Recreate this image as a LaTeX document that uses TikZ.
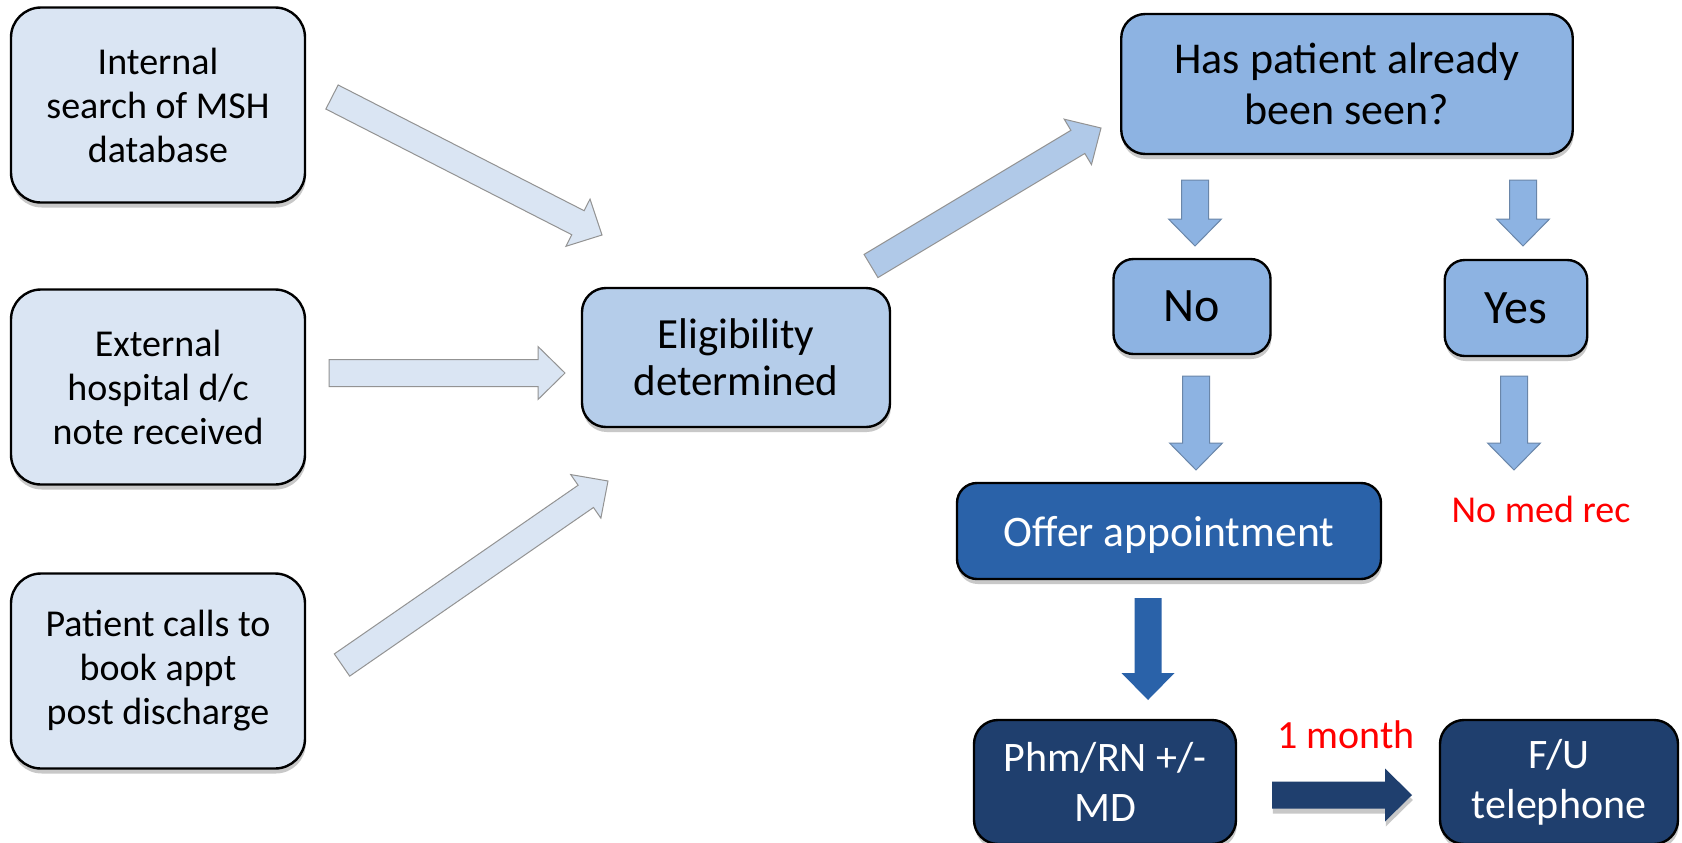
\documentclass[tikz,border=0pt]{standalone}
\usepackage{fontspec}
\setmainfont{Carlito}
\usetikzlibrary{calc,shadows}
\definecolor{lightbox}{HTML}{DAE5F3}
\definecolor{eligbox}{HTML}{B5CDEA}
\definecolor{eligarrow}{HTML}{B0C9E8}
\definecolor{midbox}{HTML}{8DB3E2}
\definecolor{offerbox}{HTML}{2A62A9}
\definecolor{darkbox}{HTML}{1F3F6E}
\definecolor{redtext}{HTML}{FF0000}
\newcommand{\blockarrow}[3]{%
  \coordinate (bahd) at ($(#3)!13.5pt!(#2)$);
  \path[#1] ($(#2)!6.75pt!90:(#3)$) -- ($(bahd)!6.75pt!90:(#3)$) -- ($(bahd)!13.25pt!90:(#3)$) -- (#3)
    -- ($(bahd)!13.25pt!-90:(#3)$) -- ($(bahd)!6.75pt!-90:(#3)$) -- ($(#2)!6.75pt!-90:(#3)$) -- cycle;
}
\tikzset{
  softshadow/.style={drop shadow={shadow xshift=0.4pt, shadow yshift=-2.5pt, opacity=0.3, fill=black!70}},
  box/.style={draw=black, line width=1.2pt, rounded corners=12pt, align=center, inner sep=0pt, softshadow},
  lbox/.style={box, fill=lightbox, rounded corners=15pt, minimum width=147pt, minimum height=97.5pt, font=\fontsize{19}{22}\selectfont},
  ebox/.style={box, fill=eligbox, font=\fontsize{21.5}{23.5}\selectfont},
  mbox/.style={box, fill=midbox},
  obox/.style={box, fill=offerbox, text=white, rounded corners=10pt},
  dbox/.style={box, fill=darkbox, text=white, minimum height=62pt, font=\fontsize{21}{25}\selectfont},
  redlabel/.style={text=redtext, inner sep=0pt, anchor=base},
  larrow/.style={fill=lightbox, draw=gray!85, line width=0.5pt},
  earrow/.style={fill=eligarrow, draw=gray!85, line width=0.5pt},
  marrow/.style={fill=midbox, draw=midbox!75!black, line width=0.5pt},
  oarrow/.style={fill=offerbox},
  darrow/.style={fill=darkbox, softshadow},
}
\begin{document}
\begin{tikzpicture}[x=0.5pt,y=-0.5pt]
\useasboundingbox (0,0) rectangle (1682,842);
\fill[white] (0,0) rectangle (1682,842);
\clip (0,0) rectangle (1682,842);

% left column
\node[lbox] (int) at (158,105) {Internal\\search of MSH\\database};
\node[lbox] (ext) at (158,387) {External\\hospital d/c\\note received};
\node[lbox] (call) at (158,671) {Patient calls to\\book appt\\post discharge};

% eligibility
\node[ebox, minimum width=154pt, minimum height=69.5pt] (elig) at (736,357.5) {Eligibility\\determined};

% decision
\node[mbox, minimum width=225.75pt, minimum height=70pt, font=\fontsize{22}{25.5}\selectfont] (seen) at (1347,84) {Has patient already\\been seen?};
\node[mbox, minimum width=78.5pt, minimum height=47.5pt, rounded corners=10pt, font=\fontsize{24}{28}\selectfont] (no) at (1192,306.5) {No};
\node[mbox, minimum width=71.25pt, minimum height=48pt, rounded corners=10pt, font=\fontsize{24}{28}\selectfont] (yes) at (1516,308) {Yes};

\node[obox, minimum width=212pt, minimum height=48pt, text depth=0pt, font=\fontsize{21.8}{25}\selectfont] (offer) at (1169,531) {Offer appointment};
\node[redlabel, font=\fontsize{19}{22}\selectfont] (nomed) at (1541,522) {No med rec};

\node[dbox, minimum width=131pt] (phm) at (1105,782) {Phm/RN +/-\\MD};
\node[dbox, minimum width=119pt] (fu) at (1559,782) {F/U\\telephone};
\node[redlabel, font=\fontsize{20}{24}\selectfont] (month) at (1346,748) {1 month};

% arrow end points
\coordinate (a1s) at (332,97);   \coordinate (a1e) at (602,235);
\coordinate (a2s) at (329,373);  \coordinate (a2e) at (565,373);
\coordinate (a3s) at (342,665);  \coordinate (a3e) at (608,481);
\coordinate (a4s) at (871,266);  \coordinate (a4e) at (1101,128);
\coordinate (d1s) at (1195,180); \coordinate (d1e) at (1195,246);
\coordinate (d2s) at (1523,180); \coordinate (d2e) at (1523,246);
\coordinate (d3s) at (1196,376); \coordinate (d3e) at (1196,470);
\coordinate (d4s) at (1514,376); \coordinate (d4e) at (1514,470);
\coordinate (d5s) at (1148,598); \coordinate (d5e) at (1148,700);
\coordinate (d6s) at (1272,795); \coordinate (d6e) at (1412,795);

\blockarrow{larrow}{a1s}{a1e}
\blockarrow{larrow}{a2s}{a2e}
\blockarrow{larrow}{a3s}{a3e}
\blockarrow{earrow}{a4s}{a4e}
\blockarrow{marrow}{d1s}{d1e}
\blockarrow{marrow}{d2s}{d2e}
\blockarrow{marrow}{d3s}{d3e}
\blockarrow{marrow}{d4s}{d4e}
\blockarrow{oarrow}{d5s}{d5e}
\blockarrow{darrow}{d6s}{d6e}
\end{tikzpicture}
\end{document}
